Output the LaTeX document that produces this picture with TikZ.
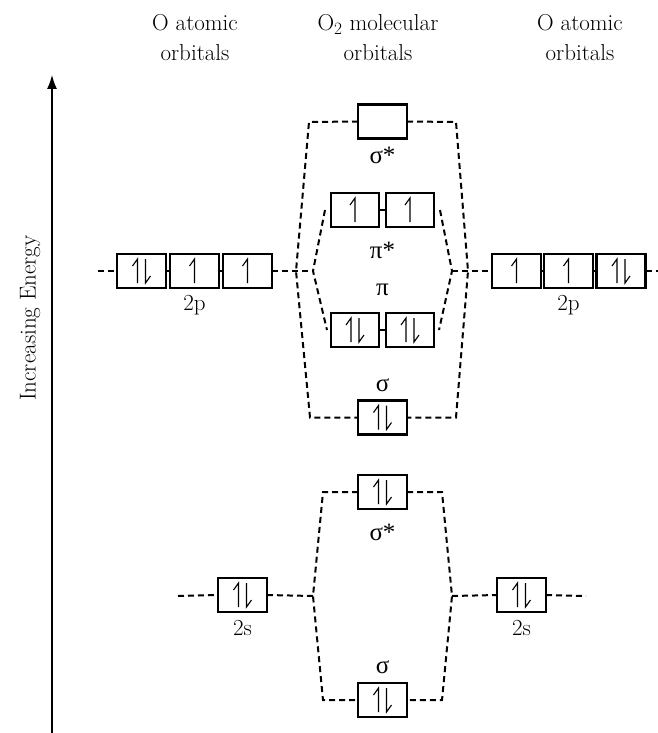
\documentclass[tikz,border=0pt]{standalone}
\usepackage{fontspec}
\newfontfamily\gr{Liberation Serif}
\usetikzlibrary{arrows.meta}
\newcommand\pairel[1]{\path (#1) ++(-4,0) pic{eup}; \path (#1) ++(4,0) pic{edn};}
\newcommand\singel[1]{\path (#1) pic{eup};}
\begin{document}
\begin{tikzpicture}[x=1pt,y=-1pt,
  orb/.style={draw, line width=2.2pt, fill=white, minimum width=49pt, minimum height=34pt, inner sep=0pt, outer sep=0pt},
  dl/.style={line width=2pt, dash pattern=on 6pt off 4pt},
  lbl/.style={font=\fontsize{23}{30}\selectfont, inner sep=0pt},
  glbl/.style={font=\gr\fontsize{25}{28}\selectfont, inner sep=0pt},
  link/.style={line width=2pt},
  eup/.pic={\draw[line width=1.1pt] (0,12) -- (0,-12) -- (-5,-5);},
  edn/.pic={\draw[line width=1.1pt] (0,-12) -- (0,12) -- (5,5);},
]
\useasboundingbox (0,0) rectangle (658,733);

% headers
\node[lbl, align=center] (h1) at (195,38) {O atomic\\orbitals};
\node[lbl, align=center] (h2) at (378,38) {O$_2$ molecular\\orbitals};
\node[lbl, align=center] (h3) at (580,38) {O atomic\\orbitals};

% energy axis
\coordinate (ebot) at (52,733);
\coordinate (etop) at (52,75);
\draw[line width=1.2pt, -{Latex[length=14pt,width=10pt]}] (ebot) -- (etop);
\node[lbl, rotate=90] (en) at (30,318) {Increasing Energy};

% atomic 2p
\node[orb] (l1) at (141.5,271) {};
\node[orb] (l2) at (194.5,271) {};
\node[orb] (l3) at (247.5,271) {};
\node[orb] (r1) at (516.5,271) {};
\node[orb] (r2) at (568.5,271) {};
\node[orb] (r3) at (621,271) {};
\node[lbl] (l2p) at (194.5,305) {2p};
\node[lbl] (r2p) at (568.5,305) {2p};

% atomic 2s
\node[orb] (ls) at (242.5,595) {};
\node[orb] (rs) at (521.5,595) {};
\node[lbl] (l2s) at (242.5,628) {2s};
\node[lbl] (r2s) at (521.5,628) {2s};

% molecular orbitals
\node[orb] (ss2p) at (382.5,121.5) {};
\node[orb, minimum width=48pt] (ps1) at (355,210) {};
\node[orb, minimum width=48pt] (ps2) at (410,210) {};
\node[orb, minimum width=48pt] (p1) at (355,330) {};
\node[orb, minimum width=48pt] (p2) at (410,330) {};
\node[orb] (s2p) at (382.5,417.5) {};
\node[orb] (ss2s) at (382.5,492) {};
\node[orb] (s2s) at (382.5,700) {};

\node[glbl] (lss2p) at (382.5,155) {σ*};
\node[glbl] (lps) at (382.5,250) {π*};
\node[glbl] (lp) at (382.5,290) {π};
\node[glbl] (ls2p) at (382.5,385) {σ};
\node[glbl] (lss2s) at (382.5,532) {σ*};
\node[glbl] (ls2s) at (382.5,667) {σ};

% links between degenerate boxes
\draw[link] (l1.east) -- (l2.west);
\draw[link] (l2.east) -- (l3.west);
\draw[link] (r1.east) -- (r2.west);
\draw[link] (r2.east) -- (r3.west);
\draw[link] (ps1.east) -- (ps2.west);
\draw[link] (p1.east) -- (p2.west);

% coordinates for correlation lines
\coordinate (la) at (98,271);
\coordinate (ra) at (658,271);
\coordinate (OL) at (296,271);
\coordinate (OR) at (468,271);
\coordinate (IL) at (313,271);
\coordinate (IR) at (452,271);
\coordinate (otl) at (309,122);
\coordinate (otr) at (456,122);
\coordinate (obl) at (310,417.5);
\coordinate (obr) at (456,417.5);
\coordinate (itl) at (325,210);
\coordinate (itr) at (440,210);
\coordinate (ibl) at (327,330);
\coordinate (ibr) at (439,330);

\coordinate (sa) at (178,596);
\coordinate (sb) at (586,596);
\coordinate (SL) at (313,596);
\coordinate (SR) at (452,596);
\coordinate (stl) at (323,492);
\coordinate (str) at (442,492);
\coordinate (sbl) at (323,700);
\coordinate (sbr) at (442,700);

% 2p correlation
\draw[dl] (la) -- (l1.west);
\draw[dl] (l3.east) -- (IL);
\draw[dl] (IR) -- (r1.west);
\draw[dl] (r3.east) -- (ra);
\draw[dl] (ss2p.west) -- (otl) -- (OL) -- (obl) -- (s2p.west);
\draw[dl] (ss2p.east) -- (otr) -- (OR) -- (obr) -- (s2p.east);
\draw[dl] (itl) -- (IL) -- (ibl);
\draw[dl] (itr) -- (IR) -- (ibr);

% 2s correlation
\draw[dl] (sa) -- (ls.west);
\draw[dl] (ls.east) -- (SL);
\draw[dl] (SR) -- (rs.west);
\draw[dl] (rs.east) -- (sb);
\draw[dl] (ss2s.west) -- (stl) -- (SL) -- (sbl) -- (s2s.west);
\draw[dl] (ss2s.east) -- (str) -- (SR) -- (sbr) -- (s2s.east);

% electrons
\pairel{l1} \singel{l2} \singel{l3}
\singel{r1} \singel{r2} \pairel{r3}
\pairel{ls} \pairel{rs}
\singel{ps1} \singel{ps2}
\pairel{p1} \pairel{p2}
\pairel{s2p} \pairel{ss2s} \pairel{s2s}
\end{tikzpicture}
\end{document}
